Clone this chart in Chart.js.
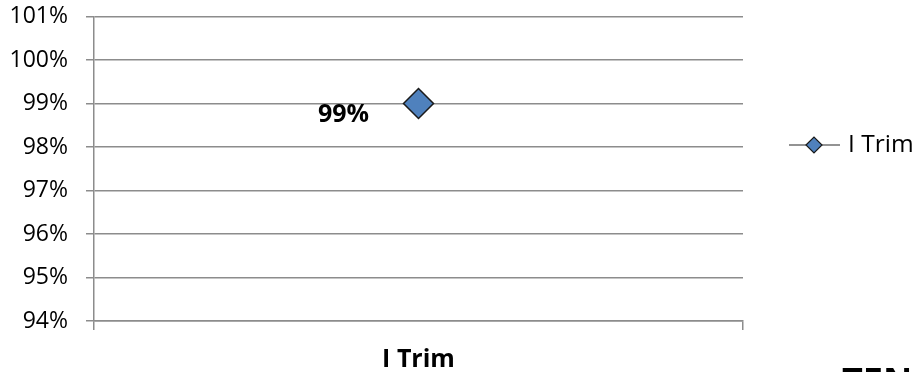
<!DOCTYPE html>
<html>
<head>
<meta charset="utf-8">
<script src="https://cdn.jsdelivr.net/npm/chart.js@4/dist/chart.umd.min.js"></script>
<style>
  html, body { margin: 0; padding: 0; background: #fff; width: 916px; height: 372px; overflow: hidden; }
  #wrap { position: relative; width: 916px; height: 372px; overflow: hidden; }
  canvas { position: absolute; left: 0; top: 0; }
  #cut { position: absolute; left: 842px; top: 363px; font-family: "Open Sans", sans-serif; font-weight: bold; font-size: 36px; line-height: 36px; color: #000; white-space: nowrap; }
</style>
</head>
<body>
<div id="wrap">
  <canvas id="c" width="916" height="372"></canvas>
  <div id="cut">TEN</div>
</div>
<script>
const categories = ['I Trim'];
const seriesName = 'I Trim';
const seriesValues = [99];
const yTickValues = [94, 95, 96, 97, 98, 99, 100, 101];

const GRID = '#8c8c8c';
const FONT = '"Open Sans", sans-serif';

const dataLabelPlugin = {
  id: 'dataLabel',
  afterDatasetsDraw(chart) {
    const ctx = chart.ctx;
    const meta = chart.getDatasetMeta(0);
    const ds = chart.data.datasets[0];
    meta.data.forEach((pt, i) => {
      ctx.save();
      ctx.font = 'bold 25px ' + FONT;
      ctx.fillStyle = '#000';
      ctx.textAlign = 'center';
      ctx.textBaseline = 'middle';
      ctx.fillText(ds.data[i] + '%', pt.x - 75, pt.y + 11);
      ctx.restore();
    });
  }
};

const legendPlugin = {
  id: 'customLegend',
  afterDraw(chart) {
    const ctx = chart.ctx;
    const ds = chart.data.datasets[0];
    const y = 145;
    const x0 = chart.chartArea.right + 46;
    ctx.save();
    ctx.strokeStyle = '#6f6f6f';
    ctx.lineWidth = 1.5;
    ctx.beginPath();
    ctx.moveTo(x0, y);
    ctx.lineTo(x0 + 51, y);
    ctx.stroke();
    const cx = x0 + 25, r = 8;
    ctx.beginPath();
    ctx.moveTo(cx - r, y);
    ctx.lineTo(cx, y - r);
    ctx.lineTo(cx + r, y);
    ctx.lineTo(cx, y + r);
    ctx.closePath();
    ctx.fillStyle = ds.backgroundColor;
    ctx.fill();
    ctx.strokeStyle = ds.borderColor;
    ctx.lineWidth = 1.2;
    ctx.stroke();
    ctx.font = '24.5px ' + FONT;
    ctx.fillStyle = '#000';
    ctx.textAlign = 'left';
    ctx.textBaseline = 'middle';
    ctx.fillText(ds.label, x0 + 59, y);
    ctx.restore();
  }
};

new Chart(document.getElementById('c'), {
  type: 'line',
  data: {
    labels: categories,
    datasets: [{
      label: seriesName,
      data: seriesValues,
      backgroundColor: '#4F81BD',
      borderColor: '#1a1a1a',
      pointStyle: 'rectRot',
      pointRadius: 15,
      pointBorderWidth: 1.5,
      showLine: false
    }]
  },
  options: {
    responsive: false,
    animation: false,
    layout: { padding: { left: 0, right: 173, top: 15, bottom: 0 } },
    plugins: { legend: { display: false }, tooltip: { enabled: false } },
    scales: {
      x: {
        type: 'category',
        offset: true,
        grid: { offset: true, drawOnChartArea: false, drawTicks: true, tickLength: 9, color: GRID, lineWidth: 1.5 },
        border: { display: true, color: GRID, width: 1.5 },
        ticks: { font: { family: FONT, size: 25, weight: 'bold' }, color: '#000', padding: 15 },
        afterFit(s) { s.height = 51; s.paddingLeft = 0; s.paddingRight = 0; }
      },
      y: {
        min: yTickValues[0],
        max: yTickValues[yTickValues.length - 1],
        afterBuildTicks(s) { s.ticks = yTickValues.map(v => ({ value: v })); },
        ticks: { callback: v => v + '%', font: { family: FONT, size: 23 }, color: '#000', padding: 18 },
        grid: { color: GRID, lineWidth: 1.5, tickLength: 8 },
        border: { display: true, color: GRID, width: 1.5 },
        afterFit(s) { s.width = 94; s.paddingTop = 0; s.paddingBottom = 0; }
      }
    }
  },
  plugins: [dataLabelPlugin, legendPlugin]
});
</script>
</body>
</html>
